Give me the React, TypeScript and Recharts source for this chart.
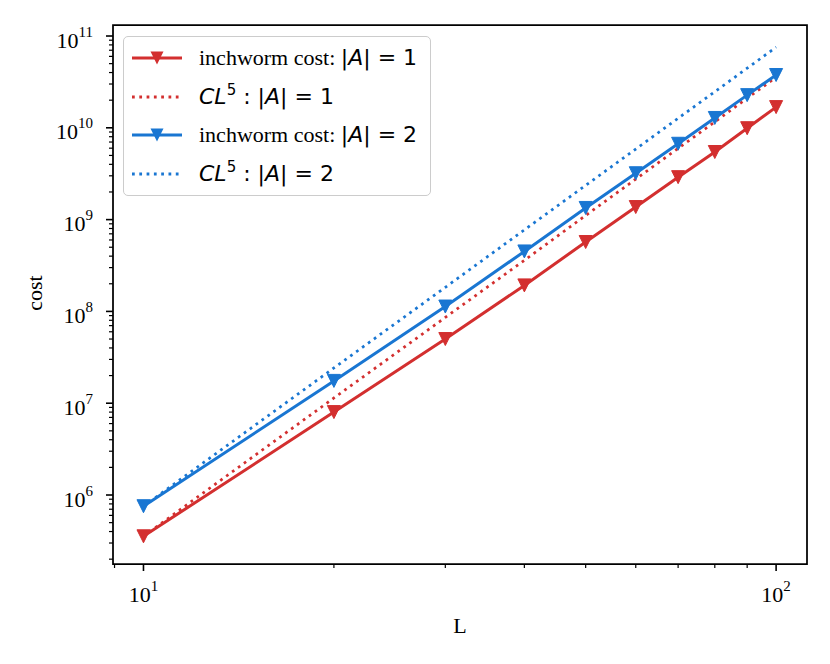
import React from "react";
import { Label, Legend, Line, LineChart, ReferenceArea, XAxis, YAxis } from "recharts";

// chain length L
const lengths = [10, 20, 30, 40, 50, 60, 70, 80, 90, 100];

const inchwormA1 = [3.55e5, 8.0e6, 5.0e7, 1.92e8, 5.7e8, 1.37e9, 2.9e9, 5.45e9, 9.9e9, 1.68e10];
const fitA1 = [3.55e5, 1.14e7, 8.6e7, 3.6e8, 1.11e9, 2.76e9, 5.97e9, 1.16e10, 2.1e10, 3.55e10];
const inchwormA2 = [7.55e5, 1.75e7, 1.13e8, 4.5e8, 1.34e9, 3.2e9, 6.7e9, 1.28e10, 2.27e10, 3.76e10];
const fitA2 = [7.55e5, 2.42e7, 1.83e8, 7.73e8, 2.36e9, 5.87e9, 1.27e10, 2.47e10, 4.46e10, 7.55e10];

const xMajor = [10, 100];
const xMinor = [9, 20, 30, 40, 50, 60, 70, 80, 90];
const yMajor = [1e6, 1e7, 1e8, 1e9, 1e10, 1e11];
const yMinor = [
  2e5, 3e5, 4e5, 5e5, 6e5, 7e5, 8e5, 9e5,
  2e6, 3e6, 4e6, 5e6, 6e6, 7e6, 8e6, 9e6,
  2e7, 3e7, 4e7, 5e7, 6e7, 7e7, 8e7, 9e7,
  2e8, 3e8, 4e8, 5e8, 6e8, 7e8, 8e8, 9e8,
  2e9, 3e9, 4e9, 5e9, 6e9, 7e9, 8e9, 9e9,
  2e10, 3e10, 4e10, 5e10, 6e10, 7e10, 8e10, 9e10,
];

const X_DOMAIN = [8.95, 111.9];
const Y_DOMAIN = [1.772e5, 1.318e11];

const RED = "#d32f2f";
const BLUE = "#1976d2";
const SERIF = "'Liberation Serif', 'Times New Roman', serif";
const MATH = "'DejaVu Sans', sans-serif";

const data = lengths.map((L, i) => ({
  L,
  a1: inchwormA1[i],
  f1: fitA1[i],
  a2: inchwormA2[i],
  f2: fitA2[i],
}));

const isMajor = (v: number) => Math.abs(Math.log10(v) - Math.round(Math.log10(v))) < 1e-9;

function XTick({ x, y, payload }: any) {
  const v = payload.value;
  const major = isMajor(v);
  return (
    <g>
      <line x1={x} x2={x} y1={y} y2={y + (major ? 7 : 4)} stroke="#000" strokeWidth={major ? 1.6 : 1.2} />
      {major && (
        <text x={x} y={y + 38} textAnchor="middle" fontFamily={SERIF} fontSize={22} fill="#000">
          10
          <tspan fontSize={15} dy={-11}>{Math.round(Math.log10(v))}</tspan>
        </text>
      )}
    </g>
  );
}

function YTick({ x, y, payload }: any) {
  const v = payload.value;
  const major = isMajor(v);
  return (
    <g>
      <line x1={x} x2={x - (major ? 7 : 4)} y1={y} y2={y} stroke="#000" strokeWidth={major ? 1.6 : 1.2} />
      {major && (
        <text x={x - 20} y={y + 11.5} textAnchor="end" fontFamily={SERIF} fontSize={22} fill="#000">
          10
          <tspan fontSize={15} dy={-11}>{Math.round(Math.log10(v))}</tspan>
        </text>
      )}
    </g>
  );
}

const triangle = (color: string) => (props: any) => {
  const { cx, cy, index } = props;
  const r = 6.5;
  return (
    <path
      key={`t-${color}-${index}`}
      d={`M${cx - r},${cy - r} L${cx + r},${cy - r} L${cx},${cy + r} Z`}
      fill={color}
      stroke={color}
      strokeWidth={1}
    />
  );
};

function Handle({ color, dotted }: { color: string; dotted?: boolean }) {
  return (
    <svg width={50} height={20} style={{ display: "block", flex: "none" }}>
      <line
        x1={0}
        x2={50}
        y1={10}
        y2={10}
        stroke={color}
        strokeWidth={3}
        strokeDasharray={dotted ? "2.75 4.55" : undefined}
      />
      {!dotted && <path d="M18.5,3.5 L31.5,3.5 L25,16.5 Z" fill={color} />}
    </svg>
  );
}

const absA = (n: number) => (
  <span style={{ fontFamily: MATH }}>
    |<i>A</i>| = {n}
  </span>
);

function LegendBox() {
  const rows = [
    { color: RED, dotted: false, text: <><span style={{ fontFamily: SERIF }}>inchworm cost: </span>{absA(1)}</> },
    { color: RED, dotted: true, text: <span style={{ fontFamily: MATH }}><i>CL</i><sup style={{ fontSize: 15, verticalAlign: 9, lineHeight: 0 }}>5</sup> : {absA(1)}</span> },
    { color: BLUE, dotted: false, text: <><span style={{ fontFamily: SERIF }}>inchworm cost: </span>{absA(2)}</> },
    { color: BLUE, dotted: true, text: <span style={{ fontFamily: MATH }}><i>CL</i><sup style={{ fontSize: 15, verticalAlign: 9, lineHeight: 0 }}>5</sup> : {absA(2)}</span> },
  ];
  return (
    <div
      style={{
        width: 306,
        height: 156,
        border: "1px solid #cccccc",
        borderRadius: 5,
        background: "rgba(255,255,255,0.8)",
        boxSizing: "content-box",
        paddingTop: 2,
      }}
    >
      {rows.map((r, i) => (
        <div key={i} style={{ display: "flex", alignItems: "center", height: 38.5, paddingLeft: 8, fontSize: 22, color: "#000", whiteSpace: "nowrap" }}>
          <Handle color={r.color} dotted={r.dotted} />
          <div style={{ marginLeft: 17, lineHeight: "24px" }}>{r.text}</div>
        </div>
      ))}
    </div>
  );
}

export default function App() {
  return (
    <div style={{ width: 814, height: 648, position: "relative", background: "#fff" }}>
      <LineChart width={814} height={648} data={data} margin={{ top: 17, right: 15, bottom: 0, left: 0 }}>
        <XAxis
          dataKey="L"
          type="number"
          scale="log"
          domain={X_DOMAIN}
          allowDataOverflow
          ticks={[...xMinor, ...xMajor]}
          interval={0}
          axisLine={false}
          tickLine={false}
          tickSize={0}
          tickMargin={0}
          tick={<XTick />}
          height={92}
        >
          <Label
            content={() => (
              <text x={452} y={625} textAnchor="middle" fontFamily={SERIF} fontSize={22} fill="#000">
                L
              </text>
            )}
          />
        </XAxis>
        <YAxis
          type="number"
          scale="log"
          domain={Y_DOMAIN}
          allowDataOverflow
          ticks={[...yMinor, ...yMajor]}
          interval={0}
          axisLine={false}
          tickLine={false}
          tickSize={0}
          tickMargin={0}
          tick={<YTick />}
          width={105}
        >
          <Label
            content={() => (
              <text transform="translate(34,285) rotate(-90)" textAnchor="middle" fontFamily={SERIF} fontSize={22} fill="#000">
                cost
              </text>
            )}
          />
        </YAxis>
        <Line dataKey="a1" stroke={RED} strokeWidth={3} dot={triangle(RED)} activeDot={false} isAnimationActive={false} />
        <Line dataKey="f1" stroke={RED} strokeWidth={2.75} strokeDasharray="2.75 4.55" dot={false} activeDot={false} isAnimationActive={false} />
        <Line dataKey="a2" stroke={BLUE} strokeWidth={3} dot={triangle(BLUE)} activeDot={false} isAnimationActive={false} />
        <Line dataKey="f2" stroke={BLUE} strokeWidth={2.75} strokeDasharray="2.75 4.55" dot={false} activeDot={false} isAnimationActive={false} />
        <ReferenceArea
          x1={X_DOMAIN[0]}
          x2={X_DOMAIN[1]}
          y1={Y_DOMAIN[0]}
          y2={Y_DOMAIN[1]}
          fill="none"
          stroke="#000"
          strokeWidth={1.75}
          ifOverflow="visible"
        />
        <Legend
          layout="vertical"
          align="center"
          verticalAlign="middle"
          wrapperStyle={{ left: 115, top: 28, width: "auto" }}
          content={() => <LegendBox />}
        />
      </LineChart>
    </div>
  );
}
